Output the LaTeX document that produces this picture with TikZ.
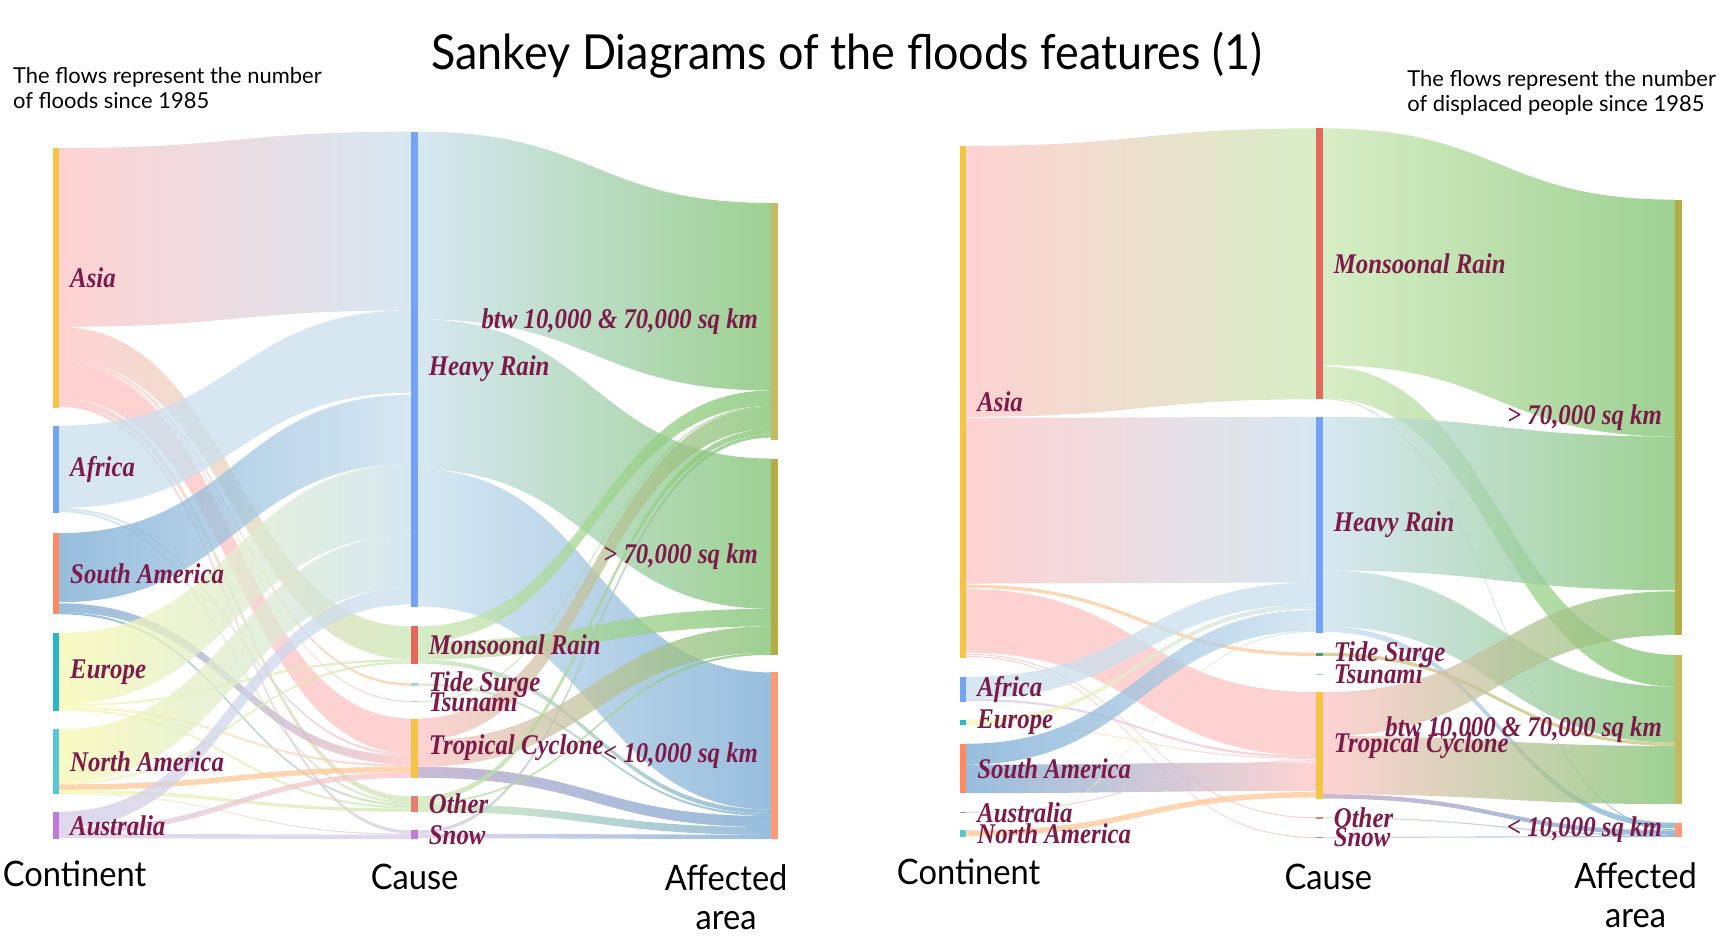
\documentclass[tikz,border=0pt]{standalone}
\usepackage{fontspec}
\usetikzlibrary{calc, backgrounds}

\newfontfamily\labfont[FakeStretch=0.87]{Liberation Serif}
\newfontfamily\headfont[FakeStretch=0.93]{Lato}
\newfontfamily\notefont[FakeStretch=1.0]{Lato}

% node colours
\definecolor{labred}{HTML}{7E1A4A}
\definecolor{cgold}{HTML}{F6C445}
\definecolor{cblue}{HTML}{73A3F2}
\definecolor{csalmon}{HTML}{FF8A62}
\definecolor{cred}{HTML}{E4695C}
\definecolor{cteal}{HTML}{2CB6C8}
\definecolor{ccyan}{HTML}{55C8D8}
\definecolor{cpurple}{HTML}{C17AD5}
\definecolor{cgreen}{HTML}{3AA57A}
\definecolor{ctide}{HTML}{9DD8D0}
\definecolor{cother}{HTML}{E57F6D}
\definecolor{colive}{HTML}{B5AC48}
\definecolor{colivel}{HTML}{C3BA62}
\definecolor{corange}{HTML}{FF9A76}
% flow colours
\definecolor{fpink}{HTML}{FFC4C4}
\definecolor{fblue}{HTML}{C9E0EE}
\definecolor{fsteel}{HTML}{76A9D3}
\definecolor{fyellow}{HTML}{F6F9AE}
\definecolor{flav}{HTML}{D6CBE6}
\definecolor{fpeach}{HTML}{FFC796}
\definecolor{fgreen}{HTML}{7DC26E}
\definecolor{fgreenl}{HTML}{CBE8B3}
\definecolor{fmauve}{HTML}{B7A3C6}
\definecolor{folive}{HTML}{C8C27A}

% band from node #1 (offset #2) to node #3 (offset #4), width #5, colours #6 -> #7
\newcommand{\band}[7]{%
  \coordinate (ba) at ($(#1.north east)+(0,#2)$);
  \coordinate (bb) at ($(#3.north west)+(0,#4)$);
  \coordinate (bc) at ($(ba)+(0,#5)$);
  \coordinate (bd) at ($(bb)+(0,#5)$);
  \coordinate (bm) at ($(ba)!.5!(bb)$);
  \shade[left color=#6, right color=#7, fill opacity=.75]
    (ba) .. controls (ba -| bm) and (bb -| bm) .. (bb) -- (bd)
    .. controls (bd -| bm) and (bc -| bm) .. (bc) -- cycle;
}

\begin{document}
\begin{tikzpicture}[
            x = 1pt, y = -1pt, % pixel grid, y going down
            label distance = 10pt,
            outer sep = 0pt
        ]

        \tikzstyle{bar}=[
            draw = none,
            inner sep = 0pt,
            minimum width = 6pt,
            anchor = north
        ]
        \tikzstyle{lab}=[
            font = \labfont\bfseries\itshape\fontsize{26}{26}\selectfont,
            text = labred,
            inner sep = 0pt
        ]
        \tikzstyle{head}=[font = \headfont\fontsize{32}{36}\selectfont, align = center]
        \tikzstyle{note}=[font = \notefont\fontsize{20}{23}\selectfont, align = left,
            anchor = north west, inner sep = 0pt]

        \useasboundingbox (0,0) rectangle (1568,859);

        % titles
        \node (title) [font = \headfont\fontsize{44}{44}\selectfont] at (772,50) {Sankey Diagrams of the floods features (1)};
        \node (noteL) [note] at (12,61) {The flows represent the number\\of floods since 1985};
        \node (noteR) [note] at (1283,64) {The flows represent the number\\of displaced people since 1985};

        % left: continents
        \node (asiaL) [bar, fill = cgold, minimum height = 237pt, label = {[lab]right:Asia}] at (51,135) {};
        \node (afrL) [bar, fill = cblue, minimum height = 80pt, label = {[lab]right:Africa}] at (51,388) {};
        \node (samL) [bar, fill = csalmon, minimum height = 74pt, label = {[lab]right:South America}] at (51,486) {};
        \node (eurL) [bar, fill = cteal, minimum height = 71pt, label = {[lab]right:Europe}] at (51,577) {};
        \node (namL) [bar, fill = ccyan, minimum height = 59pt, label = {[lab]right:North America}] at (51,665) {};
        \node (ausL) [bar, fill = cpurple, minimum height = 25pt, label = {[lab]right:Australia}] at (51,740) {};
        % left: causes
        \node (hrL) [bar, fill = cblue, minimum height = 433pt, label = {[lab]right:Heavy Rain}] at (378,120) {};
        \node (monL) [bar, fill = cred, minimum height = 34pt, label = {[lab]right:Monsoonal Rain}] at (378,571) {};
        \node (tideL) [bar, fill = ctide, minimum height = 2pt, label = {[lab]right:Tide Surge}] at (378,623) {};
        \node (tsuL) [bar, fill = ctide, minimum height = 1pt, label = {[lab]right:Tsunami}] at (378,639) {};
        \node (tcL) [bar, fill = cgold, minimum height = 54pt, label = {[lab]right:Tropical Cyclone}] at (378,655) {};
        \node (othL) [bar, fill = cother, minimum height = 14pt, label = {[lab]right:Other}] at (378,726) {};
        \node (snowL) [bar, fill = cpurple, minimum height = 8pt, label = {[lab]right:Snow}] at (378,757) {};
        % left: affected area
        \node (midL) [bar, fill = colivel, minimum height = 216pt, label = {[lab, label distance = 12pt]left:btw 10,000 \& 70,000 sq km}] at (706,185) {};
        \node (bigL) [bar, fill = colive, minimum height = 179pt, label = {[lab, label distance = 12pt]left:> 70,000 sq km}] at (706,418) {};
        \node (smallL) [bar, fill = corange, minimum height = 152pt, label = {[lab, label distance = 12pt]left:< 10,000 sq km}] at (706,613) {};

        \node (contL) [head] at (68,797) {Continent};
        \node (causeL) [head] at (378,799) {Cause};
        \node (areaL) [head] at (662,818) {Affected\\area};

        % right: continents
        \node (asiaR) [bar, fill = cgold, minimum height = 467pt, label = {[lab]right:Asia}] at (878,133) {};
        \node (afrR) [bar, fill = cblue, minimum height = 23pt, label = {[lab]right:Africa}] at (878,617) {};
        \node (eurR) [bar, fill = cteal, minimum height = 5pt, label = {[lab]right:Europe}] at (878,656) {};
        \node (samR) [bar, fill = csalmon, minimum height = 45pt, label = {[lab]right:South America}] at (878,678) {};
        \node (ausR) [bar, fill = cpurple, minimum height = 1.5pt, label = {[lab]right:Australia}] at (878,740) {};
        \node (namR) [bar, fill = ccyan, minimum height = 6pt, label = {[lab]right:North America}] at (878,757) {};
        % right: causes
        \node (monR) [bar, fill = cred, minimum height = 247pt, label = {[lab]right:Monsoonal Rain}] at (1203,117) {};
        \node (hrR) [bar, fill = cblue, minimum height = 197pt, label = {[lab]right:Heavy Rain}] at (1203,380) {};
        \node (tideR) [bar, fill = cgreen, minimum height = 3pt, label = {[lab]right:Tide Surge}] at (1203,595) {};
        \node (tsuR) [bar, fill = ctide, minimum height = 1pt, label = {[lab]right:Tsunami}] at (1203,614) {};
        \node (tcR) [bar, fill = cgold, minimum height = 97pt, label = {[lab]right:Tropical Cyclone}] at (1203,631) {};
        \node (othR) [bar, fill = cother, minimum height = 1.5pt, label = {[lab]right:Other}] at (1203,745) {};
        \node (snowR) [bar, fill = cpurple, minimum height = 1pt, label = {[lab]right:Snow}] at (1203,763) {};
        % right: affected area
        \node (bigR) [bar, fill = colive, minimum height = 397pt, label = {[lab, label distance = 12pt]left:> 70,000 sq km}] at (1530,182) {};
        \node (midR) [bar, fill = colivel, minimum height = 136pt, label = {[lab, label distance = 12pt]left:btw 10,000 \& 70,000 sq km}] at (1530,597) {};
        \node (smallR) [bar, fill = corange, minimum height = 13pt, label = {[lab, label distance = 12pt]left:< 10,000 sq km}] at (1530,750) {};

        \node (contR) [head] at (883,795) {Continent};
        \node (causeR) [head] at (1211,799) {Cause};
        \node (areaR) [head] at (1491,816) {Affected\\area};

        \begin{scope}[on background layer]
            \fill[white] (0,0) rectangle (1568,859);
            % left: continent -> cause
            \band{asiaL}{0}{hrL}{0}{163}{fpink}{fblue}
            \band{asiaL}{163}{monL}{0}{30}{fpink}{fgreenl}
            \band{asiaL}{193}{tideL}{0}{2}{fpink}{fpeach}
            \band{asiaL}{195}{tsuL}{0}{1}{fpink}{fpink}
            \band{asiaL}{196}{tcL}{0}{32}{fpink}{fpink}
            \band{asiaL}{228}{othL}{0}{5}{fpink}{fgreenl}
            \band{asiaL}{233}{snowL}{0}{3}{fpink}{flav}
            \band{afrL}{0}{hrL}{163}{75}{fblue}{fblue}
            \band{afrL}{75}{tcL}{32}{2}{fblue}{fpink}
            \band{afrL}{77}{othL}{5}{2}{fblue}{fgreenl}
            \band{samL}{0}{hrL}{240}{63}{fsteel}{fblue}
            \band{samL}{64}{tcL}{34}{8}{fsteel}{fpink}
            \band{samL}{72}{othL}{7}{2}{fsteel}{fgreenl}
            \band{eurL}{0}{hrL}{303}{65}{fyellow}{fblue}
            \band{eurL}{65}{monL}{30}{2}{fyellow}{fgreenl}
            \band{eurL}{67}{tcL}{42}{2}{fyellow}{fpink}
            \band{eurL}{69}{othL}{9}{2}{fyellow}{fgreenl}
            \band{namL}{0}{hrL}{368}{48}{fyellow}{fblue}
            \band{namL}{48}{monL}{32}{2}{fyellow}{fgreenl}
            \band{namL}{50}{tcL}{44}{5}{fpeach}{fpeach}
            \band{namL}{55}{othL}{11}{3}{fyellow}{fgreenl}
            \band{namL}{58}{snowL}{3}{1}{fyellow}{flav}
            \band{ausL}{0}{hrL}{416}{15}{flav}{fblue}
            \band{ausL}{15}{tcL}{49}{5}{flav}{fpink}
            \band{ausL}{20}{snowL}{4}{4}{flav}{flav}
            % left: cause -> affected area
            \band{hrL}{0}{midL}{0}{171}{fblue}{fgreen}
            \band{hrL}{171}{bigL}{0}{137}{fblue}{fgreen}
            \band{hrL}{308}{smallL}{0}{125}{fblue}{fsteel}
            \band{monL}{0}{midL}{171}{14}{fgreenl}{fgreen}
            \band{monL}{14}{bigL}{137}{16}{fgreenl}{fgreen}
            \band{monL}{30}{smallL}{125}{4}{fgreenl}{fsteel}
            \band{tideL}{0}{smallL}{129}{2}{fgreenl}{fsteel}
            \band{tsuL}{0}{midL}{185}{1}{fgreenl}{fgreen}
            \band{tcL}{0}{midL}{186}{20}{fpink}{fgreen}
            \band{tcL}{20}{bigL}{153}{24}{fpink}{fgreen}
            \band{tcL}{44}{smallL}{131}{10}{fmauve}{fsteel}
            \band{othL}{0}{midL}{206}{5}{fgreenl}{fgreen}
            \band{othL}{5}{bigL}{177}{2}{fgreenl}{fgreen}
            \band{othL}{7}{smallL}{141}{7}{fgreenl}{fsteel}
            \band{snowL}{0}{midL}{211}{3}{flav}{fgreen}
            \band{snowL}{3}{smallL}{148}{4}{flav}{fsteel}
            % right: continent -> cause
            \band{asiaR}{0}{monR}{0}{247}{fpink}{fgreenl}
            \band{asiaR}{248}{hrR}{0}{151}{fpink}{fblue}
            \band{asiaR}{400}{tideR}{0}{3}{fpeach}{fpeach}
            \band{asiaR}{404}{tcR}{0}{58}{fpink}{fpink}
            \band{asiaR}{463}{othR}{0}{1}{fpink}{fpink}
            \band{asiaR}{465}{snowR}{0}{1}{fpink}{fpink}
            \band{afrR}{0}{hrR}{151}{20}{fblue}{fblue}
            \band{afrR}{20}{tcR}{58}{2}{flav}{fpink}
            \band{eurR}{0}{hrR}{171}{4}{fyellow}{fblue}
            \band{eurR}{4}{tcR}{60}{1}{fyellow}{fpink}
            \band{samR}{0}{hrR}{176}{19}{fsteel}{fblue}
            \band{samR}{19}{tcR}{64}{26}{fsteel}{fpink}
            \band{ausR}{0}{tcR}{62}{1}{flav}{fpink}
            \band{namR}{0}{tcR}{91}{5}{fpeach}{fpeach}
            \band{namR}{5}{hrR}{195}{1}{fyellow}{fblue}
            % right: cause -> affected area
            \band{monR}{0}{bigR}{0}{216}{fgreenl}{fgreen}
            \band{monR}{217}{midR}{0}{29}{fgreenl}{fgreen}
            \band{monR}{246}{smallR}{6}{1}{fgreenl}{fsteel}
            \band{hrR}{0}{bigR}{216}{140}{fblue}{fgreen}
            \band{hrR}{140}{midR}{29}{51}{fblue}{fgreen}
            \band{hrR}{191}{smallR}{0}{5}{fblue}{fsteel}
            \band{tideR}{0}{midR}{80}{3}{folive}{folive}
            \band{tcR}{0}{bigR}{357}{40}{fpink}{fgreen}
            \band{tcR}{40}{midR}{83}{53}{fpink}{fgreen}
            \band{tcR}{93}{smallR}{7}{4}{fmauve}{fsteel}
            \band{othR}{0}{smallR}{11}{1}{fgreenl}{fsteel}
            \band{snowR}{0}{smallR}{12}{1}{flav}{fsteel}
        \end{scope}

    \end{tikzpicture}
\end{document}
